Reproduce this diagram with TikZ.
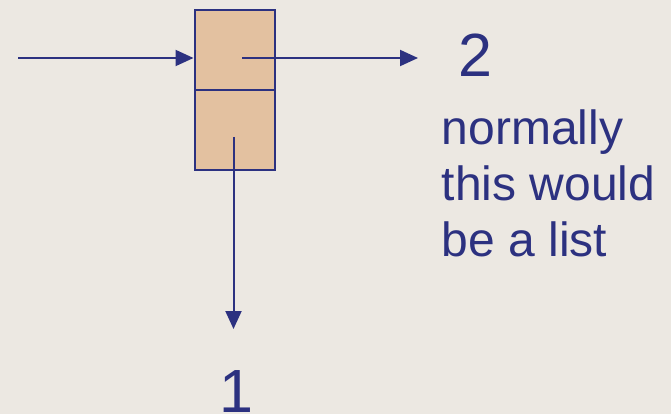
\documentclass[tikz,border=0pt]{standalone}
\usepackage{fontspec}
\setmainfont{Liberation Sans}
\usetikzlibrary{arrows.meta}
\definecolor{ink}{HTML}{2C3180}
\definecolor{cellfill}{HTML}{E3C1A0}
\definecolor{paper}{HTML}{ECE8E2}
\tikzset{
  cell/.style={draw=ink, fill=cellfill, line width=2pt, minimum width=80pt, minimum height=80pt, inner sep=0pt},
  conn/.style={draw=ink, line width=2pt, -{Triangle[length=18pt,width=16pt]}},
  lbl/.style={text=ink, inner sep=0pt}
}
\begin{document}
\begin{tikzpicture}[x=1pt,y=1pt]
  \fill[paper] (0,0) rectangle (671,-414);
  \useasboundingbox (0,0) rectangle (671,-414);
  \node[cell] (top) at (234.5,-50) {};
  \node[cell] (bot) at (234.5,-130) {};
  \coordinate (src) at (18,-58);
  \coordinate (p1) at (242,-58);
  \coordinate (tip1) at (418,-58);
  \coordinate (p2) at (233.5,-137);
  \coordinate (tip2) at (233.5,-329);
  \draw[conn] (src) -- (src -| top.west);
  \draw[conn] (p1) -- (tip1);
  \draw[conn] (p2) -- (tip2);
  \node[lbl, anchor=base west, font=\fontsize{61}{61}\selectfont] (two) at (458,-77) {2};
  \node[lbl, anchor=base, font=\fontsize{61}{61}\selectfont] (one) at (236.5,-412) {1};
  \node[lbl, anchor=north west, align=left, font=\fontsize{48}{56}\selectfont] (note) at (441.5,-110) {normally\\this would\\be a list};
\end{tikzpicture}
\end{document}
